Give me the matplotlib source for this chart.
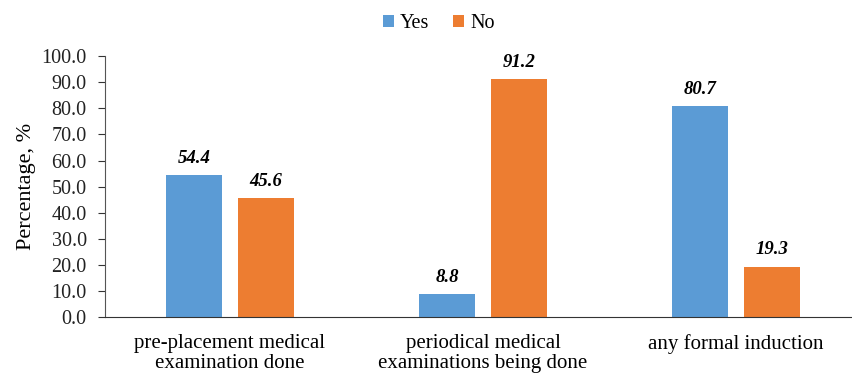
import numpy as np
import matplotlib.pyplot as plt

# survey responses, percent
categories = ['pre-placement medical\nexamination done',
              'periodical medical\nexaminations being done',
              'any formal induction']
yes = [54.4, 8.8, 80.7]
no = [45.6, 91.2, 19.3]

plt.rcParams['font.family'] = 'Liberation Serif'

fig = plt.figure(figsize=(8.52, 3.74), dpi=100)
ax = fig.add_axes([0.123, 0.152, 0.877, 0.698])

x = np.arange(len(categories))
w = 0.221
off = 0.142
b1 = ax.bar(x - off, yes, w, color='#5B9BD5', label='Yes')
b2 = ax.bar(x + off, no, w, color='#ED7D31', label='No')

for bars in (b1, b2):
    for rect in bars:
        h = rect.get_height()
        ax.annotate(f'{h:.1f}', (rect.get_x() + rect.get_width() / 2, h),
                    xytext=(0, 6), textcoords='offset points',
                    ha='center', va='bottom', fontsize=13.5,
                    fontweight='bold', fontstyle='italic')

ax.set_xlim(-0.494, 2.458)
ax.set_ylim(0, 100)
ax.set_yticks(np.arange(0, 101, 10))
ax.set_yticklabels([f'{v:.1f}' for v in np.arange(0, 101, 10)], fontsize=14.5)
ax.set_xticks(x)
ax.set_xticklabels(categories, fontsize=15, linespacing=1.1)
ax.tick_params(axis='x', length=0, pad=12)
ax.tick_params(axis='y', length=5, width=0.8, pad=8, colors='#333333', labelcolor='#222222')
ax.set_ylabel('Percentage, %', fontsize=16, labelpad=4)

for s in ('top', 'right'):
    ax.spines[s].set_visible(False)
ax.spines['left'].set_color('#555555')
ax.spines['bottom'].set_color('#333333')

fig.legend(loc='upper center', bbox_to_anchor=(0.515, 1.01), ncol=2, frameon=False,
           fontsize=14.5, handlelength=0.55, handleheight=0.55, handletextpad=0.3,
           columnspacing=1.2)

fig.savefig('out.png', dpi=100)
